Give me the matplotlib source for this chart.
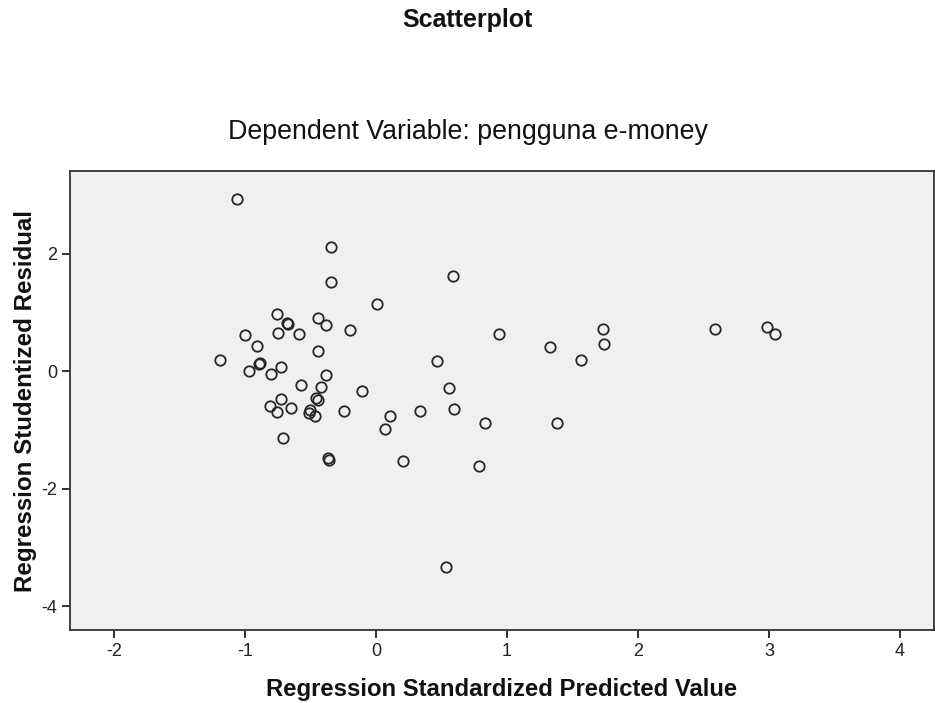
"""Residual scatterplot (SPSS style): studentized residual vs standardized predicted value."""

import matplotlib
matplotlib.use('Agg')
import matplotlib.pyplot as plt
import matplotlib.font_manager as fm

names = {f.name for f in fm.fontManager.ttflist}
MAIN_FONT = 'Liberation Sans' if 'Liberation Sans' in names else 'DejaVu Sans'
TICK_FONT = 'Liberation Sans Narrow' if 'Liberation Sans Narrow' in names else MAIN_FONT
plt.rcParams['font.family'] = [MAIN_FONT, 'DejaVu Sans']

# values
pred_std = [-1.058, -0.343, -0.341, 0.005, -0.758, -0.682, -0.670, -0.445, -0.379,
            -0.196, -1.000, -0.746, -0.590, -0.908, -0.445, -1.193, -0.896, -0.885,
            -0.972, -0.728, -0.802, -0.379, -0.573, -0.417, -0.109, -0.728, -0.458,
            -0.440, -0.807, -0.756, -0.647, -0.509, -0.500, -0.468, -0.244, 0.109,
            0.069, -0.712, -0.370, -0.358, 0.588, 0.941, 1.730, 1.743, 1.328, 1.567,
            0.468, 0.557, 0.338, 0.598, 0.834, 1.379, 0.206, 0.784, 0.534, 2.585,
            2.982, 3.046]
resid_stud = [2.94, 2.12, 1.52, 1.14, 0.97, 0.82, 0.80, 0.905, 0.786,
              0.713, 0.628, 0.662, 0.634, 0.436, 0.345, 0.192, 0.13, 0.14,
              0.005, 0.08, -0.046, -0.056, -0.226, -0.266, -0.328, -0.464, -0.453,
              -0.49, -0.589, -0.696, -0.628, -0.70, -0.66, -0.759, -0.668, -0.759,
              -0.985, -1.13, -1.48, -1.51, 1.63, 0.645, 0.73, 0.458, 0.407, 0.198,
              0.18, -0.283, -0.674, -0.634, -0.877, -0.883, -1.528, -1.613, -3.33, 0.73,
              0.764, 0.633]
x_ticks = [-2, -1, 0, 1, 2, 3, 4]
y_ticks = [-4, -2, 0, 2]

W, H = 935, 703
fig = plt.figure(figsize=(W / 100, H / 100), dpi=100, facecolor='white')
ax = fig.add_axes([70 / W, 1 - 630 / H, 864 / W, 459 / H])
ax.set_facecolor('#f0f0f0')

ax.plot(pred_std, resid_stud, linestyle='none', marker='o', markersize=7.5,
        markerfacecolor='none', markeredgecolor='#262626', markeredgewidth=1.3)

ax.set_xlim(-2.336, 4.26)
ax.set_ylim(-4.40, 3.41)
ax.set_xticks(x_ticks)
ax.set_yticks(y_ticks)
ax.set_xticklabels([str(t) for t in x_ticks], fontfamily=TICK_FONT, fontsize=13)
ax.set_yticklabels([str(t) for t in y_ticks], fontfamily=TICK_FONT, fontsize=13)
ax.tick_params(direction='out', length=6, width=1.4, color='#333333',
               labelcolor='#222222', pad=3)

for sp in ax.spines.values():
    sp.set_color('#333333')
    sp.set_linewidth(1.3)

ax.set_xlabel('Regression Standardized Predicted Value', fontsize=17.2,
              fontweight='bold', color='#111111', labelpad=13)
ax.set_ylabel('Regression Studentized Residual', fontsize=17.4,
              fontweight='bold', color='#111111', labelpad=3)

fig.text(0.5, 1 - 27 / H, 'Scatterplot', ha='center', va='baseline',
         fontsize=18, fontweight='bold', color='#111111')
fig.text(0.5, 1 - 139 / H, 'Dependent Variable: pengguna e-money', ha='center',
         va='baseline', fontsize=19.3, color='#111111')

fig.savefig('out.png', dpi=100, facecolor='white')
